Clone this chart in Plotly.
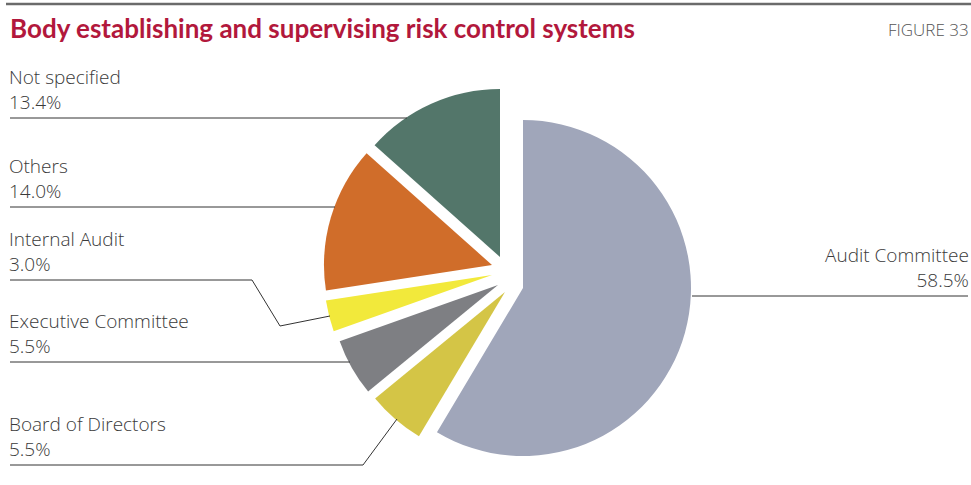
import plotly.graph_objects as go

# ---- data ----
categories = ["Audit Committee", "Board of Directors", "Executive Committee",
              "Internal Audit", "Others", "Not specified"]
shares = [58.5, 5.5, 5.5, 3.0, 14.0, 13.4]
pct_labels = ["58.5%", "5.5%", "5.5%", "3.0%", "14.0%", "13.4%"]
colors = ["#a0a6ba", "#d4c546", "#7e7f83", "#f2e93b", "#d06d2a", "#53766a"]

# ---- layout constants (pixels) ----
W, H = 971, 485
R = 168
# apex position of each exploded slice
apex = [(523, 288), (505, 292), (498, 285), (492, 275), (492, 265), (500, 257)]

fig = go.Figure()
for i, (ax, ay) in enumerate(apex):
    cols = [c if j == i else "rgba(0,0,0,0)" for j, c in enumerate(colors)]
    fig.add_trace(go.Pie(
        labels=categories, values=shares, sort=False, direction="clockwise",
        rotation=0, marker=dict(colors=cols, line=dict(width=0)),
        textinfo="none", hoverinfo="skip", showlegend=False,
        domain=dict(x=[(ax - R) / W, (ax + R) / W],
                    y=[1 - (ay + R) / H, 1 - (ay - R) / H]),
    ))

# label blocks: (category index, x, line y, anchor)
label_pos = [
    (5, 8, 118, "left"),
    (4, 8, 207, "left"),
    (3, 8, 280, "left"),
    (2, 8, 362, "left"),
    (1, 8, 465, "left"),
    (0, 970, 296, "right"),
]
leaders = {
    5: [(10, 118), (407, 118)],
    4: [(10, 207), (335, 207)],
    3: [(10, 280), (252, 280), (280, 326), (330, 316)],
    2: [(10, 362), (350, 362)],
    1: [(10, 465), (363, 465), (397, 419)],
    0: [(692, 296), (968, 296)],
}

LBL_FONT = "Open Sans"
LBL_COLOR = "#3a3a3a"
annotations = []
shapes = []
for idx, x, ly, anc in label_pos:
    pb = ly - 11.5
    annotations.append(dict(
        x=x, y=pb - 17.5, xref="x", yref="y",
        text=f"{categories[idx]}<br>{pct_labels[idx]}", showarrow=False,
        xanchor=anc, yanchor="middle", align=anc, borderpad=0,
        font=dict(family=LBL_FONT, size=19, color=LBL_COLOR, weight=300),
    ))
    pts = leaders[idx]
    path = "M " + " L ".join(f"{px},{py}" for px, py in pts)
    shapes.append(dict(type="path", path=path, xref="x", yref="y",
                       line=dict(color="#333333", width=1)))

# top rule
shapes.append(dict(type="line", x0=6, x1=971, y0=4, y1=4, xref="x", yref="y",
                   line=dict(color="#6b6b6b", width=2.5)))

annotations.append(dict(
    x=8, y=28, xref="x", yref="y", xanchor="left", yanchor="middle",
    text="<b>Body establishing and supervising risk control systems</b>",
    showarrow=False, font=dict(family="Lato", size=26, color="#b2183c"),
))
annotations.append(dict(
    x=971, y=29, xref="x", yref="y", xanchor="right", yanchor="middle",
    text="FIGURE 33", showarrow=False,
    font=dict(family="Open Sans", size=17, color="#555555", weight=300),
))

fig.update_layout(
    width=W, height=H, margin=dict(l=0, r=0, t=0, b=0),
    paper_bgcolor="white", plot_bgcolor="rgba(0,0,0,0)",
    xaxis=dict(range=[0, W], visible=False, fixedrange=True),
    yaxis=dict(range=[H, 0], visible=False, fixedrange=True),
    annotations=annotations, shapes=shapes,
)
fig.write_html("out.html")
